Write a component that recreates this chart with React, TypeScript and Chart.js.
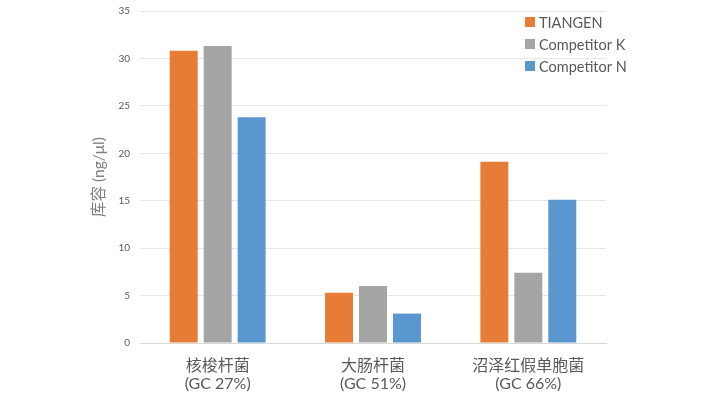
import React, { useEffect, useRef } from 'react';
import { Chart, registerables } from 'chart.js';
Chart.register(...registerables);

const categories = [
  ['核梭杆菌', '(GC 27%)'],
  ['大肠杆菌', '(GC 51%)'],
  ['沼泽红假单胞菌', '(GC 66%)'],
];
const seriesNames = ['TIANGEN', 'Competitor K', 'Competitor N'];
const tiangen = [30.8, 5.3, 19.1];
const competitorK = [31.3, 6.0, 7.4];
const competitorN = [23.8, 3.1, 15.1];
const seriesColors = ['#E67C35', '#A5A5A5', '#5B97CF'];
const yMin = 0;
const yMax = 35;
const yStep = 5;
const yTitle = '库容 (ng/μl)';

const FONT = 'Lato, "Noto Sans CJK SC", sans-serif';

const legendPlugin = {
  id: 'customLegend',
  afterDraw(chart: any) {
    const ctx = chart.ctx;
    ctx.save();
    ctx.font = `14.5px ${FONT}`;
    ctx.textBaseline = 'middle';
    ctx.textAlign = 'left';
    chart.data.datasets.forEach((ds: any, i: number) => {
      const y = 22 + i * 22;
      ctx.fillStyle = ds.backgroundColor;
      ctx.fillRect(525, y - 5, 10, 10);
      ctx.fillStyle = '#595959';
      ctx.fillText(ds.label, 539, y + 1);
    });
    ctx.restore();
  },
};

export default function App() {
  const ref = useRef<HTMLCanvasElement>(null);
  useEffect(() => {
    document.body.style.margin = '0';
    const seriesData = [tiangen, competitorK, competitorN];
    const chart = new Chart(ref.current!, {
      type: 'bar',
      data: {
        labels: categories,
        datasets: seriesNames.map((name, i) => ({
          label: name,
          data: seriesData[i],
          backgroundColor: seriesColors[i],
          categoryPercentage: 0.656,
          barPercentage: 0.824,
        })),
      },
      options: {
        responsive: false,
        maintainAspectRatio: false,
        animation: false,
        layout: { padding: { left: 0, right: 101, top: 11, bottom: 0 } },
        plugins: {
          legend: { display: false },
          tooltip: { enabled: false },
        },
        scales: {
          x: {
            grid: { display: false, drawTicks: false },
            border: { display: true, color: '#D9D9D9', width: 1 },
            ticks: {
              color: '#595959',
              font: { family: FONT, size: 16, lineHeight: 1.13 },
              padding: 14,
              maxRotation: 0,
              autoSkip: false,
            },
            afterFit: (s: any) => { s.height = 55; },
          },
          y: {
            min: yMin,
            max: yMax,
            grid: { color: '#E6E6E6', drawTicks: false },
            border: { display: false },
            ticks: {
              stepSize: yStep,
              color: '#595959',
              font: { family: FONT, size: 10 },
              padding: 10,
            },
            title: {
              display: true,
              text: yTitle,
              color: '#7F7F7F',
              font: { family: FONT, size: 15.5 },
              padding: { top: 90, bottom: 0 },
            },
            afterFit: (s: any) => {
              s.width = 140;
              s.paddingTop = 6;
              s.paddingBottom = 6;
            },
          },
        },
      },
      plugins: [legendPlugin],
    });
    return () => chart.destroy();
  }, []);
  return (
    <div style={{ width: 707, height: 398 }}>
      <canvas ref={ref} width={707} height={398} />
    </div>
  );
}
